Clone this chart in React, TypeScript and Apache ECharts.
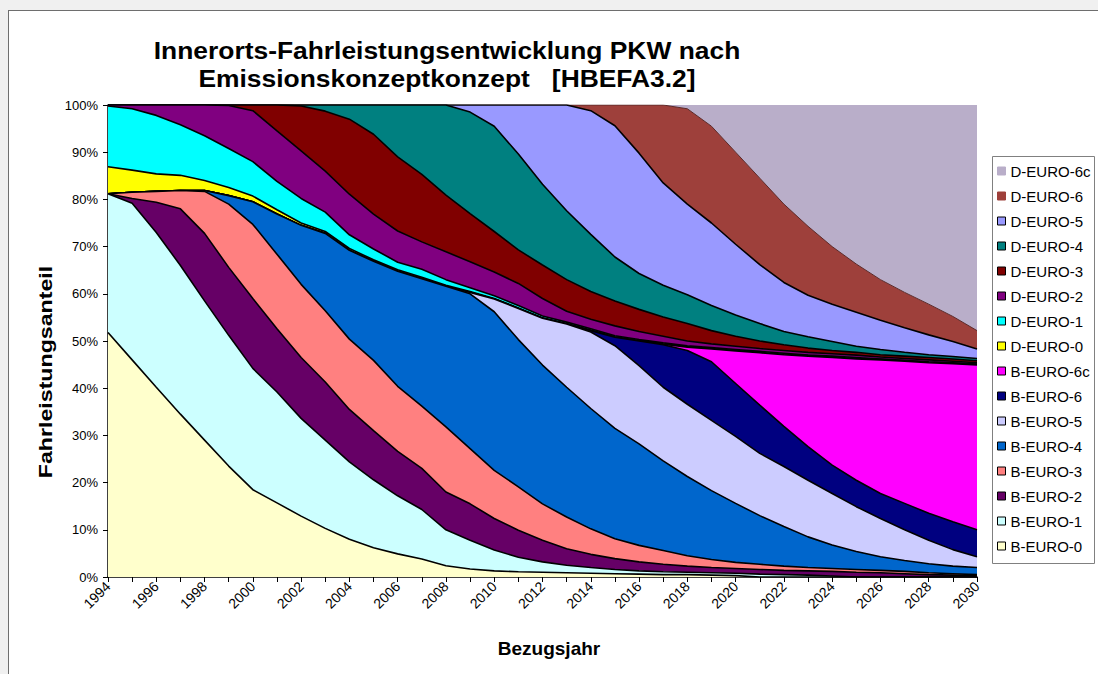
import React, { useEffect, useRef } from "react";
import * as echarts from "echarts";

const FONT = "Liberation Sans, Arial, sans-serif";

const years = [
  "1994", "1995", "1996", "1997", "1998", "1999", "2000", "2001", "2002", "2003",
  "2004", "2005", "2006", "2007", "2008", "2009", "2010", "2011", "2012", "2013",
  "2014", "2015", "2016", "2017", "2018", "2019", "2020", "2021", "2022", "2023",
  "2024", "2025", "2026", "2027", "2028", "2029", "2030",
];

const seriesNames = [
  "B-EURO-0", "B-EURO-1", "B-EURO-2", "B-EURO-3", "B-EURO-4", "B-EURO-5", "B-EURO-6", "B-EURO-6c",
  "D-EURO-0", "D-EURO-1", "D-EURO-2", "D-EURO-3", "D-EURO-4", "D-EURO-5", "D-EURO-6", "D-EURO-6c",
];

const seriesColors = [
  "#FFFFCC", "#CCFFFF", "#660066", "#FF8080", "#0066CC", "#CCCCFF", "#000080", "#FF00FF",
  "#FFFF00", "#00FFFF", "#800080", "#800000", "#008080", "#9999FF", "#9E403B", "#B9AEC9",
];

// shares in % per year (1994..2030)
const bEuro0 = [51.8, 46.0, 40.2, 34.5, 29.0, 23.5, 18.5, 15.7, 12.9, 10.3, 8.0, 6.2, 4.9, 3.8, 2.4, 1.7, 1.3, 1.1, 1.0, 0.9, 0.8, 0.7, 0.6, 0.5, 0.5, 0.4, 0.3, 0, 0, 0, 0, 0, 0, 0, 0, 0, 0];
const bEuro1 = [29.4, 33.2, 32.8, 31.5, 29.5, 27.7, 25.7, 23.5, 20.7, 18.7, 16.4, 14.4, 12.3, 10.5, 7.6, 6.1, 4.4, 3.1, 2.2, 1.6, 1.2, 0.9, 0.7, 0.6, 0.5, 0.5, 0.5, 0.6, 0.5, 0.4, 0.2, 0, 0, 0, 0, 0, 0];
const bEuro2 = [0, 1.0, 6.4, 12.0, 14.3, 14.4, 14.8, 13.4, 12.9, 12.3, 11.1, 10.4, 9.4, 8.7, 8.0, 7.7, 6.7, 5.7, 4.6, 3.5, 2.8, 2.3, 1.9, 1.6, 1.3, 1.1, 1.0, 1.0, 0.9, 0.9, 1.0, 1.0, 0.9, 0.7, 0.5, 0.4, 0.3];
const bEuro3 = [0, 1.3, 2.3, 3.9, 8.9, 13.4, 15.7, 15.8, 15.5, 15.1, 14.9, 14.9, 13.8, 13.2, 13.8, 11.7, 10.2, 9.2, 7.7, 6.7, 5.4, 4.2, 3.5, 2.9, 2.2, 1.7, 1.3, 1.1, 0.9, 0.7, 0.6, 0.6, 0.5, 0.5, 0.4, 0.3, 0.2];
const bEuro4 = [0, 0, 0, 0, 0.2, 1.8, 4.8, 8.5, 12.5, 16.4, 18.8, 21.0, 24.4, 27.0, 29.8, 32.8, 33.6, 31.2, 29.4, 27.5, 25.5, 23.4, 21.5, 19.0, 16.8, 14.6, 12.5, 10.3, 8.4, 6.5, 5.0, 3.8, 2.9, 2.3, 1.9, 1.6, 1.5];
const bEuro5 = [0, 0, 0, 0, 0, 0, 0, 0, 0, 0, 0, 0, 0, 0, 0, 0.3, 2.7, 6.6, 9.9, 13.4, 16.2, 17.5, 16.6, 15.6, 15.3, 14.9, 14.2, 13.2, 12.7, 12.0, 10.9, 9.5, 8.1, 6.5, 5.0, 3.5, 2.3];
const bEuro6 = [0, 0, 0, 0, 0, 0, 0, 0, 0, 0, 0, 0, 0, 0, 0, 0, 0, 0, 0, 0, 0.3, 1.8, 5.2, 9.0, 11.4, 12.4, 11.2, 10.2, 8.5, 7.1, 6.0, 5.6, 5.3, 5.6, 5.7, 5.9, 5.7];
const bEuro6c = [0, 0, 0, 0, 0, 0, 0, 0, 0, 0, 0, 0, 0, 0, 0, 0, 0, 0, 0, 0, 0, 0, 0, 0.1, 0.7, 2.7, 6.9, 11.1, 15.2, 19.2, 22.8, 25.7, 28.3, 30.1, 31.9, 33.5, 34.9];
const dEuro0 = [5.7, 4.7, 3.7, 3.2, 2.1, 1.7, 1.2, 0.9, 0.5, 0.4, 0.4, 0.3, 0.3, 0.3, 0.2, 0.2, 0.1, 0.1, 0.1, 0.1, 0.1, 0.1, 0.1, 0.1, 0.1, 0.1, 0.1, 0.1, 0.1, 0.1, 0.1, 0.1, 0.1, 0.1, 0.1, 0.1, 0.1];
const dEuro1 = [12.9, 13.0, 12.4, 10.7, 9.5, 8.3, 7.3, 6.0, 5.2, 4.1, 2.9, 2.3, 1.6, 1.7, 1.2, 0.8, 0.6, 0.5, 0.4, 0.3, 0.3, 0.2, 0.2, 0.2, 0.2, 0.2, 0.2, 0.2, 0.2, 0.1, 0.2, 0.2, 0.1, 0.1, 0.1, 0.1, 0.1];
const dEuro2 = [0.2, 0.8, 2.2, 4.2, 6.5, 9.1, 10.8, 10.7, 10.1, 8.7, 8.6, 7.4, 6.6, 5.8, 5.9, 5.5, 5.0, 4.7, 3.7, 2.3, 2.0, 2.1, 1.7, 1.4, 1.0, 0.8, 0.7, 0.6, 0.6, 0.6, 0.5, 0.5, 0.4, 0.4, 0.4, 0.3, 0.3];
const dEuro3 = [0, 0, 0, 0, 0, 0.1, 1.2, 5.5, 9.5, 12.7, 15.9, 16.9, 15.7, 14.3, 12.0, 10.2, 8.6, 7.1, 7.1, 6.7, 5.9, 5.3, 4.7, 4.1, 3.7, 2.8, 2.1, 1.6, 1.2, 0.9, 0.7, 0.6, 0.5, 0.5, 0.5, 0.5, 0.4];
const dEuro4 = [0, 0, 0, 0, 0, 0, 0, 0, 0.2, 1.3, 3.0, 6.2, 11.0, 14.7, 19.1, 21.5, 22.3, 20.3, 17.1, 14.6, 12.1, 9.3, 7.6, 6.7, 6.1, 5.3, 4.5, 3.7, 2.8, 2.4, 1.9, 1.3, 1.1, 0.8, 0.6, 0.5, 0.5];
const dEuro5 = [0, 0, 0, 0, 0, 0, 0, 0, 0, 0, 0, 0, 0, 0, 0, 1.5, 4.5, 10.4, 16.8, 22.4, 26.2, 27.8, 25.5, 21.7, 19.2, 17.5, 15.0, 12.5, 10.4, 8.8, 7.9, 7.2, 6.2, 5.2, 4.2, 3.2, 2.0];
const dEuro6 = [0, 0, 0, 0, 0, 0, 0, 0, 0, 0, 0, 0, 0, 0, 0, 0, 0, 0, 0, 0, 1.2, 4.4, 10.2, 16.5, 20.2, 20.5, 19.5, 18.3, 16.6, 14.6, 12.2, 10.2, 8.6, 7.5, 6.5, 5.3, 3.9];
const dEuro6c = [0, 0, 0, 0, 0, 0, 0, 0, 0, 0, 0, 0, 0, 0, 0, 0, 0, 0, 0, 0, 0, 0, 0, 0, 0.8, 4.5, 10.0, 15.5, 21.0, 25.7, 30.0, 33.7, 37.0, 39.7, 42.2, 44.8, 47.8];

const seriesValues = [
  bEuro0, bEuro1, bEuro2, bEuro3, bEuro4, bEuro5, bEuro6, bEuro6c,
  dEuro0, dEuro1, dEuro2, dEuro3, dEuro4, dEuro5, dEuro6, dEuro6c,
];

const yTicks = [0, 10, 20, 30, 40, 50, 60, 70, 80, 90, 100];

export default function App() {
  const ref = useRef<HTMLDivElement | null>(null);

  useEffect(() => {
    if (!ref.current) return;
    const chart = echarts.init(ref.current, undefined, { renderer: "svg" });

    const n = seriesNames.length;
    const series = seriesNames.map((name, i) => ({
      name,
      type: "line",
      stack: "total",
      data: seriesValues[i],
      symbol: "none",
      silent: true,
      // lower series are drawn last so that every boundary line stays visible
      z: 2 + (n - i) * 0.01,
      lineStyle: {
        color: i === 14 ? "#5a2a2a" : "#000",
        width: i === 15 ? 0 : i === 14 ? 1 : 1.6,
      },
      areaStyle: { color: seriesColors[i], opacity: 1 },
      itemStyle: { color: seriesColors[i] },
    }));

    const legendData = [...seriesNames].reverse().map((name) => {
      const idx = seriesNames.indexOf(name);
      const noBorder = idx >= 14;
      return {
        name,
        itemStyle: {
          color: seriesColors[idx],
          borderColor: noBorder ? seriesColors[idx] : "#000",
          borderWidth: 1,
        },
      };
    });

    chart.setOption({
      animation: false,
      backgroundColor: "transparent",
      grid: { left: 108, right: 121, top: 105, bottom: 97, containLabel: false },
      xAxis: {
        type: "category",
        data: years,
        boundaryGap: false,
        axisLine: { show: true, lineStyle: { color: "#000", width: 1.5 } },
        axisTick: { show: true, interval: 0, length: 5, lineStyle: { color: "#000" } },
        axisLabel: {
          interval: 1,
          rotate: 45,
          fontSize: 14,
          fontFamily: FONT,
          color: "#000",
          margin: 7,
        },
        splitLine: { show: false },
      },
      yAxis: {
        type: "value",
        min: yTicks[0],
        max: yTicks[yTicks.length - 1],
        interval: 10,
        axisLine: { show: true, lineStyle: { color: "#000", width: 1.5 } },
        axisTick: { show: true, length: 5, lineStyle: { color: "#000" } },
        axisLabel: {
          formatter: "{value}%",
          fontSize: 13,
          fontFamily: FONT,
          color: "#000",
          margin: 10,
        },
        splitLine: { show: false },
      },
      legend: {
        orient: "vertical",
        left: 997,
        top: 163,
        padding: 0,
        itemWidth: 8,
        itemHeight: 8,
        itemGap: 9,
        icon: "rect",
        selectedMode: false,
        textStyle: { fontSize: 15, fontFamily: FONT, color: "#000", lineHeight: 16 },
        data: legendData,
      },
      graphic: [
        {
          type: "rect",
          z: 0,
          shape: { x: 992.5, y: 156.5, width: 102, height: 407 },
          style: { fill: "#fff", stroke: "#808080", lineWidth: 1 },
        },
        {
          type: "text",
          x: 447,
          y: 50,
          scaleX: 1.1,
          style: {
            text: "Innerorts-Fahrleistungsentwicklung PKW nach",
            font: "bold 24px " + FONT,
            fill: "#000",
            textAlign: "center",
            textVerticalAlign: "middle",
          },
        },
        {
          type: "text",
          x: 447,
          y: 78,
          scaleX: 1.1,
          style: {
            text: "Emissionskonzeptkonzept\u00a0\u00a0 [HBEFA3.2]",
            font: "bold 24px " + FONT,
            fill: "#000",
            textAlign: "center",
            textVerticalAlign: "middle",
          },
        },
        {
          type: "text",
          x: 45,
          y: 372,
          rotation: Math.PI / 2,
          scaleX: 1.22,
          style: {
            text: "Fahrleistungsanteil",
            font: "bold 19px " + FONT,
            fill: "#000",
            textAlign: "center",
            textVerticalAlign: "middle",
          },
        },
        {
          type: "text",
          x: 549,
          y: 648,
          style: {
            text: "Bezugsjahr",
            font: "bold 19px " + FONT,
            fill: "#000",
            textAlign: "center",
            textVerticalAlign: "middle",
          },
        },
      ],
      series,
    });

    return () => chart.dispose();
  }, []);

  return (
    <div
      style={{
        position: "fixed",
        left: 0,
        top: 0,
        width: 1098,
        height: 674,
        background: "#f0f0f0",
        overflow: "hidden",
      }}
    >
      <div
        style={{
          position: "absolute",
          left: 8,
          top: 10,
          width: 1200,
          height: 800,
          background: "#fff",
          borderLeft: "1px solid #6e6e6e",
          borderTop: "1px solid #6e6e6e",
        }}
      />
      <div
        ref={ref}
        style={{ position: "absolute", left: 0, top: 0, width: 1098, height: 674 }}
      />
    </div>
  );
}
